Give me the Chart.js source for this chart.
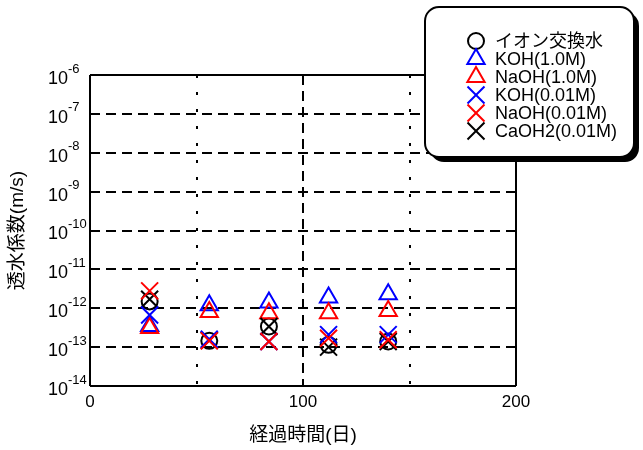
<!DOCTYPE html>
<html lang="ja">
<head>
  <meta charset="UTF-8" />
  <title>透水係数の経時変化</title>
  <script src="https://cdn.jsdelivr.net/npm/chart.js"></script>
  <style>
    body { margin: 0; background: #fff; }
    .chart-box { position: relative; width: 643px; height: 450px; }
  </style>
</head>
<body>
  <div class="chart-box"><canvas id="permChart"></canvas></div>

  <script>
    // 経過日数
    const days = [28, 56, 84, 112, 140];

    // 透水係数 (m/s)
    const ionWater   = [1.5e-12, 1.45e-13, 3.4e-13, 1.15e-13, 1.4e-13];
    const koh10      = [3.5e-13, 1.2e-12, 1.4e-12, 1.9e-12, 2.3e-12];
    const naoh10     = [3.1e-13, 8.0e-13, 7.4e-13, 7.4e-13, 8.5e-13];
    const koh001     = [6.7e-13, 1.6e-13, 1.4e-13, 2.1e-13, 2.1e-13];
    const naoh001    = [2.8e-12, 1.45e-13, 1.4e-13, 1.7e-13, 1.55e-13];
    const caoh001    = [1.7e-12, 1.5e-13, 3.4e-13, 1.0e-13, 1.4e-13];

    const seriesNames = ['イオン交換水', 'KOH(1.0M)', 'NaOH(1.0M)', 'KOH(0.01M)', 'NaOH(0.01M)', 'CaOH2(0.01M)'];
    const yTicks = [1e-6, 1e-7, 1e-8, 1e-9, 1e-10, 1e-11, 1e-12, 1e-13, 1e-14];
    const xTicks = [0, 50, 100, 150, 200];
    const xLabels = ['0', '', '100', '', '200'];

    const FONT = "'Liberation Sans', 'Noto Sans CJK JP', sans-serif";
    Chart.defaults.font.family = FONT;
    Chart.defaults.color = '#000';

    const styles = ['circle', 'triangle', 'triangle', 'crossRot', 'crossRot', 'crossRot'];
    const colors = ['#000', '#0000ff', '#ff0000', '#0000ff', '#ff0000', '#000'];
    const sizes = [8, 10, 10, 12, 12, 12];
    const orders = [5, 4, 3, 1, 0, 2];
    const allData = [ionWater, koh10, naoh10, koh001, naoh001, caoh001];

    function dataset(i) {
      return {
        label: seriesNames[i],
        data: allData[i].map((v, k) => ({ x: days[k], y: v })),
        pointStyle: styles[i],
        pointRadius: sizes[i],
        pointHoverRadius: sizes[i],
        pointBorderColor: colors[i],
        pointBackgroundColor: 'rgba(0,0,0,0)',
        pointBorderWidth: 2,
        showLine: false,
        order: orders[i]
      };
    }

    function drawMarker(ctx, style, x, y, r, color) {
      ctx.save();
      ctx.strokeStyle = color;
      ctx.lineWidth = 2;
      ctx.beginPath();
      if (style === 'circle') {
        ctx.arc(x, y, r, 0, Math.PI * 2);
      } else if (style === 'triangle') {
        for (let k = 0; k < 3; k++) {
          const a = k * 2 * Math.PI / 3;
          const px = x + Math.sin(a) * r, py = y - Math.cos(a) * r;
          if (k === 0) ctx.moveTo(px, py); else ctx.lineTo(px, py);
        }
        ctx.closePath();
      } else {
        const d = r * Math.SQRT1_2;
        ctx.moveTo(x - d, y - d); ctx.lineTo(x + d, y + d);
        ctx.moveTo(x + d, y - d); ctx.lineTo(x - d, y + d);
      }
      ctx.stroke();
      ctx.restore();
    }

    // y軸の 10^n ラベル
    const powerLabels = {
      id: 'powerLabels',
      afterDraw(chart) {
        const ctx = chart.ctx;
        const y = chart.scales.y;
        ctx.save();
        ctx.fillStyle = '#000';
        ctx.textBaseline = 'middle';
        yTicks.forEach(v => {
          const py = y.getPixelForValue(v);
          ctx.font = '18px ' + FONT;
          ctx.textAlign = 'right';
          ctx.fillText('10', 68, py + 4);
          ctx.font = '13px ' + FONT;
          ctx.textAlign = 'left';
          ctx.fillText(String(Math.round(Math.log10(v))), 68, py - 6);
        });
        ctx.restore();
      }
    };

    // 角丸の凡例ボックス
    const boxLegend = {
      id: 'boxLegend',
      afterDraw(chart) {
        const ctx = chart.ctx;
        const bx = 425, by = 7, bw = 209, bh = 150, rad = 14;
        ctx.save();
        ctx.fillStyle = '#000';
        ctx.beginPath();
        ctx.roundRect(bx + 5, by + 5, bw, bh, rad);
        ctx.fill();
        ctx.fillStyle = '#fff';
        ctx.strokeStyle = '#000';
        ctx.lineWidth = 2;
        ctx.beginPath();
        ctx.roundRect(bx, by, bw, bh, rad);
        ctx.fill();
        ctx.stroke();
        ctx.font = '18px ' + FONT;
        ctx.fillStyle = '#000';
        ctx.textAlign = 'left';
        ctx.textBaseline = 'middle';
        seriesNames.forEach((name, i) => {
          const ry = 41 + i * 18;
          drawMarker(ctx, styles[i], 476, ry, sizes[i], colors[i]);
          ctx.fillText(name, 495, ry + 1);
        });
        ctx.restore();
      }
    };

    function gridDash(ctx, edges, inner) {
      if (!ctx.tick) return [];
      return inner(ctx.tick.value, edges);
    }

    new Chart(document.getElementById('permChart'), {
      type: 'scatter',
      data: { datasets: seriesNames.map((_, i) => dataset(i)) },
      options: {
        responsive: true,
        maintainAspectRatio: false,
        animation: false,
        events: [],
        layout: { padding: { left: 0, top: 75, right: 127, bottom: 0 } },
        plugins: { legend: { display: false }, tooltip: { enabled: false } },
        scales: {
          x: {
            type: 'linear',
            min: 0,
            max: 200,
            afterBuildTicks: s => { s.ticks = xTicks.map(v => ({ value: v })); },
            afterFit: s => { s.height = 64; },
            ticks: {
              padding: 6,
              font: { size: 17 },
              callback: (v, i) => xLabels[i]
            },
            grid: { color: '#000', lineWidth: 2, drawTicks: false },
            border: {
              display: false,
              dash: ctx => {
                if (!ctx.tick) return [];
                const v = ctx.tick.value;
                if (v === 100) return [10, 6];
                if (v === 50 || v === 150) return [3, 14];
                return [];
              }
            },
            title: {
              display: true,
              text: '経過時間(日)',
              font: { size: 19 },
              padding: { top: 0, bottom: 3 }
            }
          },
          y: {
            type: 'logarithmic',
            min: 1e-14,
            max: 1e-6,
            afterBuildTicks: s => { s.ticks = yTicks.map(v => ({ value: v })); },
            afterFit: s => { s.width = 90; },
            ticks: { display: false },
            grid: { color: '#000', lineWidth: 2, drawTicks: false },
            border: {
              display: false,
              dash: ctx => {
                if (!ctx.tick) return [];
                const v = ctx.tick.value;
                if (v === 1e-6 || v === 1e-14) return [];
                return [10, 6];
              }
            },
            title: {
              display: true,
              text: '透水係数(m/s)',
              font: { size: 19 },
              padding: { top: 6, bottom: 0 }
            }
          }
        }
      },
      plugins: [powerLabels, boxLegend]
    });
  </script>
</body>
</html>
